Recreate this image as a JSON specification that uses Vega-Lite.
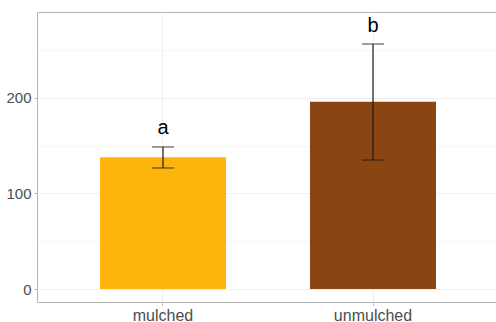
{
  "$schema": "https://vega.github.io/schema/vega-lite/v6.json",
  "width": 462,
  "height": 290,
  "autosize": {"type": "none"},
  "padding": {"left": 37, "top": 12, "right": 0, "bottom": 20},
  "background": "white",
  "config": {
    "font": "Liberation Sans",
    "view": {"stroke": "#B3B3B3", "strokeWidth": 1}
  },
  "data": {
    "values": [
      {"treatment": "mulched", "mean": 138, "lower": 126.7, "upper": 148.7, "label": "a", "label_y": 162},
      {"treatment": "unmulched", "mean": 196, "lower": 135, "upper": 256.5, "label": "b", "label_y": 269}
    ]
  },
  "encoding": {
    "x": {
      "field": "treatment",
      "type": "nominal",
      "sort": ["mulched", "unmulched"],
      "scale": {"paddingInner": 0.4, "paddingOuter": 0.3},
      "axis": {
        "title": null,
        "labelAngle": 0,
        "labelFontSize": 16,
        "labelColor": "#4D4D4D",
        "labelPadding": 2,
        "tickColor": "#B3B3B3",
        "tickSize": 3,
        "domain": false,
        "grid": true,
        "gridColor": "#EBEBEB",
        "gridWidth": 0.8,
        "bandPosition": 0.5
      }
    }
  },
  "layer": [
    {
      "mark": {"type": "bar"},
      "encoding": {
        "y": {
          "field": "mean",
          "type": "quantitative",
          "scale": {"domain": [-13.6, 290], "nice": false, "zero": false},
          "axis": {
            "title": null,
            "values": [0, 50, 100, 150, 200, 250],
            "labelExpr": "datum.value % 100 === 0 ? datum.label : ''",
            "labelFontSize": 15,
            "labelColor": "#4D4D4D",
            "labelPadding": 3,
            "tickSize": 3,
            "tickColor": {"condition": {"test": "datum.value % 100 === 0", "value": "#B3B3B3"}, "value": "transparent"},
            "domain": false,
            "grid": true,
            "gridColor": {"condition": {"test": "datum.value % 100 === 0", "value": "#EBEBEB"}, "value": "#F4F4F4"},
            "gridWidth": 0.8
          }
        },
        "color": {
          "field": "treatment",
          "type": "nominal",
          "scale": {"domain": ["mulched", "unmulched"], "range": ["#FDB50E", "#8B4513"]},
          "legend": null
        }
      }
    },
    {
      "mark": {"type": "rule", "color": "#1a1a1a", "strokeWidth": 1.2},
      "encoding": {
        "y": {"field": "lower", "type": "quantitative"},
        "y2": {"field": "upper"}
      }
    },
    {
      "mark": {"type": "tick", "color": "#1a1a1a", "size": 22, "thickness": 1.2, "orient": "horizontal"},
      "encoding": {
        "y": {"field": "lower", "type": "quantitative"}
      }
    },
    {
      "mark": {"type": "tick", "color": "#1a1a1a", "size": 22, "thickness": 1.2, "orient": "horizontal"},
      "encoding": {
        "y": {"field": "upper", "type": "quantitative"}
      }
    },
    {
      "mark": {"type": "text", "fontSize": 20, "color": "black", "baseline": "alphabetic"},
      "encoding": {
        "y": {"field": "label_y", "type": "quantitative"},
        "text": {"field": "label"}
      }
    }
  ]
}
